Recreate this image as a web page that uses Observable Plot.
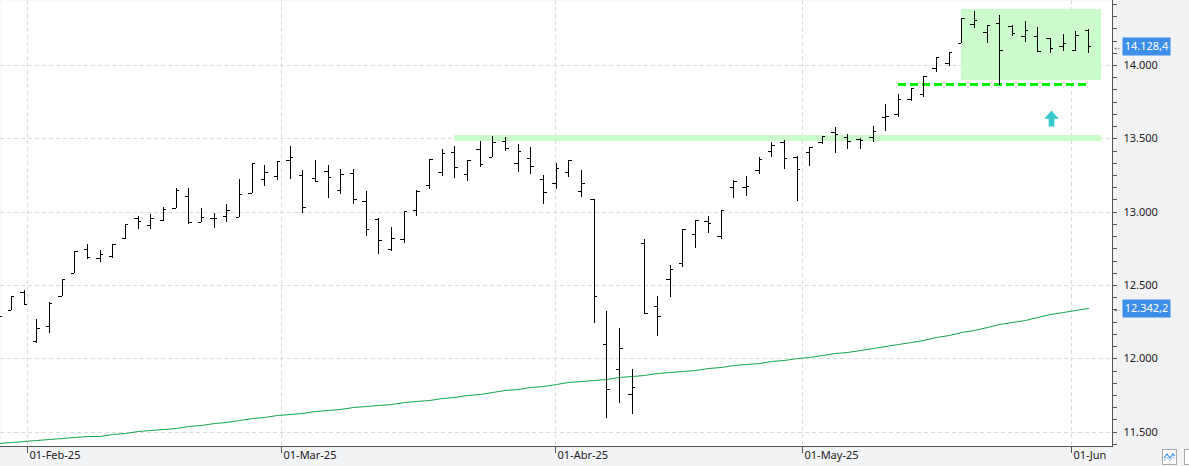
<!DOCTYPE html>
<html><head><meta charset="utf-8">
<script src="https://cdn.jsdelivr.net/npm/d3@7"></script>
<script src="https://cdn.jsdelivr.net/npm/@observablehq/plot@0.6"></script>
<style>
body{margin:0;background:#fff;}
#chart{position:relative;width:1189px;height:466px;overflow:hidden;}
#chart svg{display:block;}
.btn{position:absolute;top:449px;width:15px;height:16px;border:1px solid #a9a9a9;background:#fff;box-sizing:border-box;}
</style></head><body><div id="chart"></div>
<script>
// Session index (first session partly cut at the left edge)
const firstSession = -1;
const opens  = [12270,12330,12455,12118,12221,12425,12580,12745,12682,12698,12818,12959,12909,12943,13023,13107,12928,12955,12971,12962,13129,13221,13243,13352,13250,13228,13277,13148,13262,13073,12948,12745,12812,13011,13182,13268,13405,13257,13425,13371,13484,13330,13364,13221,13193,13268,13141,13084,12096,11925,11755,12784,12359,12539,12652,12846,12936,12834,13166,13166,13284,13414,13477,13375,13409,13473,13545,13511,13493,13511,13647,13664,13766,13800,13977,14012,14148,14277,14227,14284,14266,14198,14200,14182,14132,14102,14239];
const highs  = [12320,12425,12466,12266,12386,12539,12734,12777,12739,12778,12916,12971,12982,13034,13159,13159,13023,12989,13050,13221,13334,13318,13345,13448,13284,13352,13318,13289,13289,13141,12959,12893,13007,13148,13357,13425,13446,13352,13482,13516,13507,13461,13439,13250,13330,13352,13284,13084,12323,12205,11927,12812,12425,12636,12882,12943,12971,13011,13216,13245,13371,13473,13489,13380,13443,13518,13580,13527,13500,13586,13734,13800,13841,13927,14057,14091,14318,14368,14273,14341,14273,14300,14261,14186,14209,14232,14243];
const lows   = [12250,12330,12364,12103,12175,12425,12580,12675,12659,12682,12814,12880,12880,12938,13023,12914,12928,12891,12928,12962,13125,13177,13216,13221,12993,13204,13095,13118,13050,12836,12709,12732,12789,12972,13152,13245,13232,13211,13303,13371,13414,13273,13255,13050,13152,13234,13102,12239,11591,11698,11618,12307,12154,12420,12625,12755,12852,12812,13095,13109,13255,13375,13289,13075,13314,13461,13402,13425,13425,13473,13552,13647,13755,13784,13954,13995,14148,14250,14152,13862,14198,14159,14091,14084,14098,14098,14080];
const closes = [12291,12425,12368,12205,12379,12539,12734,12689,12711,12778,12916,12938,12955,13016,13148,12928,12966,12955,13009,13119,13330,13269,13345,13371,13030,13211,13234,13255,13084,12880,12807,12818,13004,13143,13357,13402,13303,13352,13325,13477,13432,13416,13312,13132,13296,13352,13198,12425,11789,12068,11803,12307,12289,12607,12880,12943,12920,13011,13209,13177,13359,13455,13364,13289,13443,13518,13527,13482,13489,13552,13652,13766,13841,13927,14057,14091,14318,14307,14273,14102,14216,14239,14095,14114,14148,14205,14128.4];
const ma200  = [11422,11428,11434,11441,11448,11455,11461,11467,11473,11482,11491,11501,11510,11519,11528,11537,11547,11558,11569,11581,11592,11601,11611,11620,11629,11638,11647,11656,11665,11674,11683,11691,11700,11709,11719,11729,11739,11749,11759,11770,11781,11792,11803,11814,11825,11836,11845,11853,11862,11871,11880,11889,11897,11906,11914,11923,11932,11942,11951,11961,11970,11980,11989,11999,12009,12020,12033,12046,12059,12072,12086,12099,12112,12125,12143,12159,12177,12195,12214,12231,12247,12263,12282,12300,12316,12329,12342.2];

// Month ticks (position in session units) and their labels
const monthTickPos = [1.3, 21.3, 42.9, 62.4, 83.7];
const monthLabels  = ["01-Feb-25", "01-Mar-25", "01-Abr-25", "01-May-25", "01-Jun"];
const priceTicks   = [11500, 12000, 12500, 13000, 13500, 14000];

// Annotations
const zones = [
  {x1: 35, x2: 86.05, y1: 13484, y2: 13523},
  {x1: 75, x2: 86.05, y1: 13898, y2: 14382}
];
const supportLine = [{x1: 70, x2: 84.9, y: 13868}];
const arrowMarks = [{x: 82.05, y: 13639}];

const bars = opens.map((o, k) => ({i: firstSession + k, open: o, high: highs[k], low: lows[k], close: closes[k]}));
const maData = ma200.map((v, k) => ({i: firstSession + k, v}));
const lastLabels = [{v: closes[closes.length - 1]}, {v: ma200[ma200.length - 1]}];

const loc = d3.formatLocale({decimal: ",", thousands: ".", grouping: [3], currency: ["", ""]});
const fmt0 = loc.format(",.0f");
const fmt1 = loc.format(",.1f");
const minorTicks = d3.range(11500 - 500 / 6, 14443, 500 / 6);

const half = 0.27;
const boxSymbol = {draw(ctx) { ctx.rect(-24, -9, 48, 18); }};
const arrowSymbol = {draw(ctx) {
  ctx.moveTo(0, -8); ctx.lineTo(7.2, 0.3); ctx.lineTo(2.8, 0.3); ctx.lineTo(2.8, 8);
  ctx.lineTo(-2.8, 8); ctx.lineTo(-2.8, 0.3); ctx.lineTo(-7.2, 0.3); ctx.closePath();
}};

const chart = Plot.plot({
  width: 1189, height: 466,
  marginTop: 0, marginRight: 77, marginBottom: 20, marginLeft: 0,
  x: {domain: [-0.868, 86.9], round: true, axis: null},
  y: {domain: [11402, 14443], round: true, axis: null},
  style: {fontFamily: "'Noto Sans', sans-serif", fontSize: "11px", background: "#f2f3f5", color: "#222"},
  marks: [
    Plot.frame({fill: "white", stroke: null}),
    Plot.ruleY(priceTicks, {stroke: "#dcdcdc", strokeDasharray: "4,3"}),
    Plot.ruleX(monthTickPos, {stroke: "#dcdcdc", strokeDasharray: "4,3"}),
    Plot.rect(zones, {x1: "x1", x2: "x2", y1: "y1", y2: "y2", fill: "#ccfccc"}),
    Plot.line(maData, {x: "i", y: "v", stroke: "#0fa64a", strokeWidth: 1, clip: true}),
    Plot.ruleY(supportLine, {x1: "x1", x2: "x2", y: "y", stroke: "#11ee11", strokeWidth: 3, strokeDasharray: "8,4"}),
    Plot.dot(arrowMarks, {x: "x", y: "y", symbol: arrowSymbol, r: 5, fill: "#36c9cc", stroke: null}),
    Plot.ruleX(bars, {x: "i", y1: "low", y2: "high", stroke: "black", strokeWidth: 1, clip: true}),
    Plot.ruleY(bars, {y: "open", x1: d => d.i - half, x2: "i", stroke: "black", strokeWidth: 1, clip: true}),
    Plot.ruleY(bars, {y: "close", x1: "i", x2: d => d.i + half, stroke: "black", strokeWidth: 1, clip: true}),
    Plot.frame({anchor: "right", stroke: "#555"}),
    Plot.frame({anchor: "bottom", stroke: "#555"}),
    Plot.axisY(minorTicks, {anchor: "right", tickSize: 4, tickFormat: () => "", stroke: "#555", label: null}),
    Plot.axisY(priceTicks, {anchor: "right", tickSize: 0, tickPadding: 11, tickFormat: fmt0, fill: "#222", label: null}),
    Plot.axisX(monthTickPos, {anchor: "bottom", tickSize: 7, tickFormat: () => "", stroke: "#555", label: null}),
    Plot.text(monthTickPos, {x: d => d, text: (d, i) => monthLabels[i], frameAnchor: "bottom", dy: 12, dx: 2, textAnchor: "start", fill: "#222"}),
    Plot.dot(lastLabels, {y: "v", frameAnchor: "right", dx: 34, symbol: boxSymbol, r: 4, fill: "#3d8ee8", stroke: null}),
    Plot.text(lastLabels, {y: "v", frameAnchor: "right", dx: 34, text: d => fmt1(d.v), textAnchor: "middle", fill: "white"}),
    Plot.text(lastLabels, {y: "v", frameAnchor: "right", dx: 5, text: () => "←", textAnchor: "middle", fill: "#444", fontSize: 10})
  ]
});
const host = document.getElementById("chart");
host.appendChild(chart);
const b1 = document.createElement("div"); b1.className = "btn"; b1.style.left = "1162px";
b1.innerHTML = '<svg width="13" height="14"><polyline points="1,8 4,4 7,8 10,4 12,6" fill="none" stroke="#3a8ee6" stroke-width="1.2"/><polyline points="1,11 4,7 7,11 10,7 12,9" fill="none" stroke="#9ac3ee" stroke-width="1"/></svg>';
host.appendChild(b1);
const b2 = document.createElement("div"); b2.className = "btn"; b2.style.left = "1184px";
host.appendChild(b2);
</script>
</body></html>
